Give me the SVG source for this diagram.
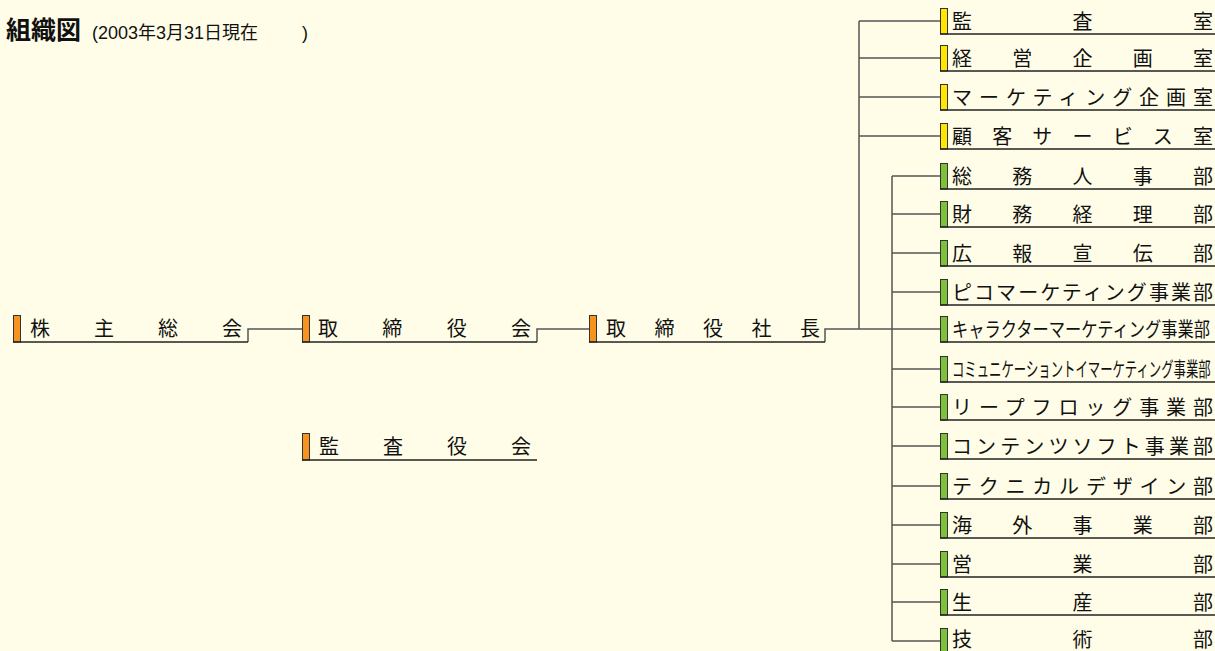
<svg xmlns="http://www.w3.org/2000/svg" width="1215" height="651" viewBox="0 0 1215 651">
<style>
.t{font-family:"Noto Sans CJK JP","Noto Sans CJK SC",sans-serif;font-size:20px;fill:#111}
.u{stroke:#222;stroke-width:1.5;fill:none}
.c{stroke:#555;stroke-width:1.5;fill:none}
.mo{fill:#F7931E;stroke:#333;stroke-width:1}
.my{fill:#FFE500;stroke:#333;stroke-width:1}
.mg{fill:#7DC03A;stroke:#333;stroke-width:1}
</style>
<rect width="1215" height="651" fill="#FFFDE7"/>
<g id="title">
<text x="6" y="39" font-family="'Noto Sans CJK JP',sans-serif" font-size="25" font-weight="bold" fill="#111">組織図</text>
<text x="92" y="39" font-family="'Liberation Sans','Noto Sans CJK JP',sans-serif" font-size="18" fill="#111">(2003年3月31日現在<tspan x="302">)</tspan></text>
</g>
<g id="connectors">
<path class="c" d="M248,342V329H302M537,342V329H589M825,342V329H940"/>
<path class="c" d="M859,329V21M859,21H940M859,58H940M859,97H940M859,136H940"/>
<path class="c" d="M892,176V641M892,176H940M892,214H940M892,253H940M892,292H940M892,369H940M892,407H940M892,446H940M892,486H940M892,525H940M892,564H940M892,602H940M892,641H940"/>
</g>
<g id="n-kabunushi"><rect class="mo" x="13.5" y="315.5" width="7" height="26.5"/><path class="u" d="M13,342H248"/><text class="t" x="30" y="335.5" textLength="212" lengthAdjust="spacing">株主総会</text></g>
<g id="n-torishimariyakukai"><rect class="mo" x="302.5" y="315.5" width="7" height="26.5"/><path class="u" d="M302,342H537"/><text class="t" x="318" y="335.5" textLength="213" lengthAdjust="spacing">取締役会</text></g>
<g id="n-shacho"><rect class="mo" x="589.5" y="315.5" width="7" height="26.5"/><path class="u" d="M589,342H825"/><text class="t" x="606" y="335.5" textLength="214" lengthAdjust="spacing">取締役社長</text></g>
<g id="n-kansayakukai"><rect class="mo" x="302.5" y="433.5" width="7" height="26.5"/><path class="u" d="M302,460H537"/><text class="t" x="319" y="453.5" textLength="212" lengthAdjust="spacing">監査役会</text></g>
<g id="n-kansa"><rect class="my" x="940.5" y="8.5" width="7" height="25.5"/><path class="u" d="M940,34H1215"/><text class="t" x="952" y="28.5" textLength="261" lengthAdjust="spacing">監査室</text></g>
<g id="n-keiei"><rect class="my" x="940.5" y="45.5" width="7" height="25.5"/><path class="u" d="M940,71H1215"/><text class="t" x="952" y="65.5" textLength="261" lengthAdjust="spacing">経営企画室</text></g>
<g id="n-marketing"><rect class="my" x="940.5" y="84.5" width="7" height="25.5"/><path class="u" d="M940,110H1215"/><text class="t" x="952" y="104.5" textLength="261" lengthAdjust="spacing">マーケティング企画室</text></g>
<g id="n-kokyaku"><rect class="my" x="940.5" y="123.5" width="7" height="25.5"/><path class="u" d="M940,149H1215"/><text class="t" x="952" y="143.5" textLength="261" lengthAdjust="spacing">顧客サービス室</text></g>
<g id="n-somu"><rect class="mg" x="940.5" y="163.5" width="7" height="25.5"/><path class="u" d="M940,189H1215"/><text class="t" x="952" y="183.5" textLength="261" lengthAdjust="spacing">総務人事部</text></g>
<g id="n-zaimu"><rect class="mg" x="940.5" y="201.5" width="7" height="25.5"/><path class="u" d="M940,227H1215"/><text class="t" x="952" y="221.5" textLength="261" lengthAdjust="spacing">財務経理部</text></g>
<g id="n-koho"><rect class="mg" x="940.5" y="240.5" width="7" height="25.5"/><path class="u" d="M940,266H1215"/><text class="t" x="952" y="260.5" textLength="261" lengthAdjust="spacing">広報宣伝部</text></g>
<g id="n-pico"><rect class="mg" x="940.5" y="279.5" width="7" height="25.5"/><path class="u" d="M940,305H1215"/><text class="t" x="952" y="299.5" textLength="261" lengthAdjust="spacing">ピコマーケティング事業部</text></g>
<g id="n-character"><rect class="mg" x="940.5" y="316.5" width="7" height="25.5"/><path class="u" d="M940,342H1215"/><text class="t" transform="translate(952,336.5) scale(0.8125,1)" x="0" y="0">キャラクターマーケティング事業部</text></g>
<g id="n-communication"><rect class="mg" x="940.5" y="356.5" width="7" height="25.5"/><path class="u" d="M940,382H1215"/><text class="t" transform="translate(952,376.5) scale(0.619,1)" x="0" y="0">コミュニケーショントイマーケティング事業部</text></g>
<g id="n-leapfrog"><rect class="mg" x="940.5" y="394.5" width="7" height="25.5"/><path class="u" d="M940,420H1215"/><text class="t" x="952" y="414.5" textLength="261" lengthAdjust="spacing">リープフロッグ事業部</text></g>
<g id="n-contents"><rect class="mg" x="940.5" y="433.5" width="7" height="25.5"/><path class="u" d="M940,459H1215"/><text class="t" x="952" y="453.5" textLength="261" lengthAdjust="spacing">コンテンツソフト事業部</text></g>
<g id="n-technical"><rect class="mg" x="940.5" y="473.5" width="7" height="25.5"/><path class="u" d="M940,499H1215"/><text class="t" x="952" y="493.5" textLength="261" lengthAdjust="spacing">テクニカルデザイン部</text></g>
<g id="n-kaigai"><rect class="mg" x="940.5" y="512.5" width="7" height="25.5"/><path class="u" d="M940,538H1215"/><text class="t" x="952" y="532.5" textLength="261" lengthAdjust="spacing">海外事業部</text></g>
<g id="n-eigyo"><rect class="mg" x="940.5" y="551.5" width="7" height="25.5"/><path class="u" d="M940,577H1215"/><text class="t" x="952" y="571.5" textLength="261" lengthAdjust="spacing">営業部</text></g>
<g id="n-seisan"><rect class="mg" x="940.5" y="589.5" width="7" height="25.5"/><path class="u" d="M940,615H1215"/><text class="t" x="952" y="609.5" textLength="261" lengthAdjust="spacing">生産部</text></g>
<g id="n-gijutsu"><rect class="mg" x="940.5" y="628.5" width="7" height="25.5"/><path class="u" d="M940,654H1215"/><text class="t" x="952" y="646.5" textLength="261" lengthAdjust="spacing">技術部</text></g>
</svg>
